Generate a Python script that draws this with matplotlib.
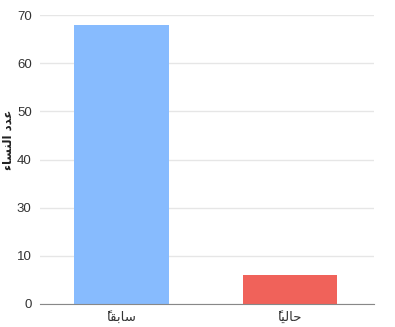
import numpy as np
import matplotlib.pyplot as plt

# data
categories = ['سابقاً', 'حالياً']
values = [68, 6]
colors = ['#87bbfe', '#f0625a']
y_ticks = [0, 10, 30, 40, 50, 60, 70]
y_label = 'عدد النساء'

# tiny arabic shaper (presentation forms) since matplotlib has no bidi/shaping
FORMS = {
    'ا': ('\ufe8d', '\ufe8e', None, None),
    'ء': ('\ufe80', None, None, None),
    'د': ('\ufea9', '\ufeaa', None, None),
    'ب': ('\ufe8f', '\ufe90', '\ufe91', '\ufe92'),
    'ح': ('\ufea1', '\ufea2', '\ufea3', '\ufea4'),
    'س': ('\ufeb1', '\ufeb2', '\ufeb3', '\ufeb4'),
    'ع': ('\ufec9', '\ufeca', '\ufecb', '\ufecc'),
    'ق': ('\ufed5', '\ufed6', '\ufed7', '\ufed8'),
    'ل': ('\ufedd', '\ufede', '\ufedf', '\ufee0'),
    'ن': ('\ufee5', '\ufee6', '\ufee7', '\ufee8'),
    'ي': ('\ufef1', '\ufef2', '\ufef3', '\ufef4'),
}
MARKS = {'\u064b'}


def shape(s):
    letters = [c for c in s]
    out = []
    for i, c in enumerate(letters):
        if c not in FORMS:
            out.append(c)
            continue
        j = i - 1
        while j >= 0 and letters[j] in MARKS:
            j -= 1
        k = i + 1
        while k < len(letters) and letters[k] in MARKS:
            k += 1
        prev = letters[j] if j >= 0 else None
        nxt = letters[k] if k < len(letters) else None
        jp = prev in FORMS and FORMS[prev][2] is not None
        jn = FORMS[c][2] is not None and nxt in FORMS
        f = FORMS[c]
        if jp and jn:
            out.append(f[3])
        elif jn:
            out.append(f[2])
        elif jp:
            out.append(f[1])
        else:
            out.append(f[0])
    return ''.join(out)[::-1]


# piecewise axis: labels 0,10 then 30..70 equally spaced
def fwd(v):
    return np.interp(v, [0, 10, 30, 70], [0, 1, 2, 6], left=None, right=None)


def inv(p):
    return np.interp(p, [0, 1, 2, 6], [0, 10, 30, 70])


plt.rcParams['font.family'] = ['Liberation Sans', 'DejaVu Sans']

fig = plt.figure(figsize=(3.95, 3.27), dpi=100)
ax = fig.add_axes([40/395, 23/327, 334/395, 289/327])
ax.set_yscale('function', functions=(fwd, inv))

x = np.arange(len(categories))
ax.bar(x, values, width=0.56, color=colors, zorder=3)

ax.set_ylim(0, 70)
ax.set_xlim(-0.485, 1.5)
ax.set_yticks(y_ticks)
ax.set_yticklabels([str(t) for t in y_ticks])
ax.set_xticks(x)
ax.set_xticklabels([shape(c) for c in categories], family=['DejaVu Sans'])
ax.yaxis.set_minor_locator(plt.NullLocator())

ax.tick_params(axis='both', length=0, labelsize=9.5, colors='#333333')
ax.tick_params(axis='y', pad=6)
ax.tick_params(axis='x', pad=5)
ax.grid(axis='y', color='#e6e6e6', linewidth=1, zorder=0)
for s in ['top', 'right', 'left']:
    ax.spines[s].set_visible(False)
ax.spines['bottom'].set_color('#888888')
ax.spines['bottom'].set_zorder(4)

fig.text(8/395, 1 - 140/327, shape(y_label), rotation=90, ha='center', va='center',
         fontsize=8.5, fontweight='bold', color='#222222', family=['DejaVu Sans'])

fig.savefig('out.png', dpi=100)
